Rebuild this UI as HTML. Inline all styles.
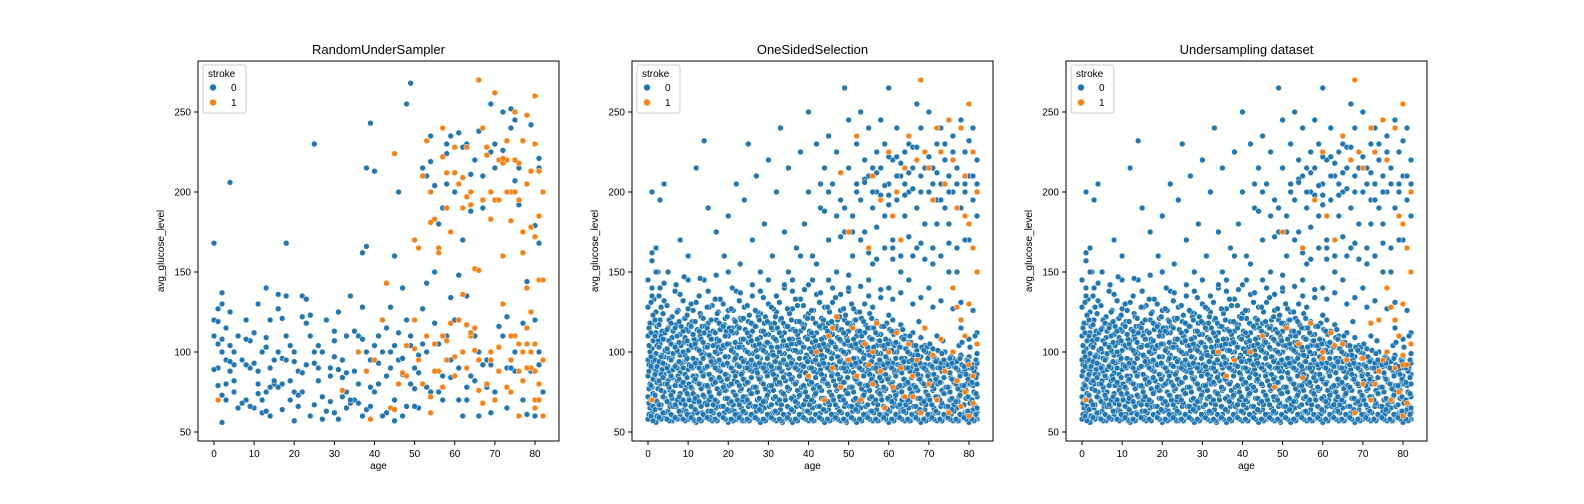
<!DOCTYPE html>
<html><head><meta charset="utf-8"><style>
body{margin:0;background:#fff;}
svg{display:block;font-family:"Liberation Sans","DejaVu Sans",sans-serif;}
</style></head><body>
<svg id="fig" width="1584" height="504" viewBox="0 0 1584 504" xmlns="http://www.w3.org/2000/svg"></svg>
<script>
// ---- data ----
const xTicks=[0,10,20,30,40,50,60,70,80];
const yTicks=[50,100,150,200,250];
const titles=["RandomUnderSampler","OneSidedSelection","Undersampling dataset"];
const p1Blue="0,168 0,120 0,110 1,127 1,105 1,90 2,137 2,130 2,100 2,56 3,115 3,95 3,80 4,206 4,125 4,88 5,100 5,75 6,110 7,95 8,120 8,70 9,90 10,112 10,65 11,130 11,88 12,100 13,140 13,75 14,120 14,60 15,95 16,127 17,80 18,168 18,110 19,70 20,57 20,100 21,88 22,135 22,75 23,118 24,60 25,230 25,100 26,90 27,72 28,120 29,85 30,107 30,62 31,125 32,95 33,75 34,135 35,88 36,110 37,60 37,162 38,166 38,215 39,243 39,95 40,75 40,213 41,110 42,100 43,85 44,128 45,70 45,160 46,200 47,140 47,60 48,255 49,268 49,110 50,90 51,65 52,127 52,215 53,100 54,235 54,75 55,150 56,105 57,85 57,190 58,230 59,95 60,200 60,120 61,70 62,170 63,135 63,230 64,85 65,110 66,60 67,210 68,95 69,255 70,75 70,230 71,195 72,110 73,65 74,240 75,100 76,215 77,70 78,205 79,88 80,120 80,60 81,215 82,75 81,100 66,100 56,75 44,100 34,68 24,110 14,90 6,65 46,95 36,80 26,82 16,78 48,120 58,110 62,60 72,250 9,107 3,70 5,92 7,68 11,74 12,62 15,80 17,96 19,104 21,66 23,92 27,100 28,63 29,90 31,58 32,84 33,110 35,70 38,64 41,93 43,62 45,104 47,86 49,80 51,98 53,78 55,118 57,70 59,84 61,90 63,78 65,82 67,92 69,62 71,116 73,90 75,88 77,118 79,100 81,92 0,89 1,119 1,79 2,73 2,108 4,94 4,104 5,82 8,92 8,108 9,66 10,93 11,80 12,70 13,103 13,109 13,63 14,78 15,82 16,100 16,136 17,64 17,121 18,135 18,95 19,82 20,75 20,94 21,73 22,122 22,87 23,133 24,123 25,93 25,67 26,104 27,58 29,69 30,97 30,113 31,89 32,72 33,65 33,87 34,70 35,113 36,68 37,108 37,128 38,100 39,78 39,66 40,104 41,80 42,60 43,115 44,90 45,57 46,112 47,96 48,66 49,104 50,77 50,66 51,87 52,105 53,143 53,210 54,219 55,204 56,180 58,205 58,224 59,235 59,134 60,228 61,148 61,237 62,228 63,70 64,211 64,188 65,220 66,238 67,190 68,78 69,225 70,215 71,116 72,226 73,122 74,252 75,245 75,207 76,192 78,144 79,242 80,179 81,168 81,221 78,61 74,90 69,92";
const p1Orange="1,70 39,58 43,143 45,224 50,170 51,165 52,210 53,232 54,200 55,183 56,165 57,240 58,212 59,175 60,228 61,205 62,190 63,228 64,200 65,152 66,270 67,240 68,228 69,200 70,262 71,220 72,218 73,232 74,200 75,250 76,218 77,175 78,248 79,178 80,260 80,230 81,185 82,200 81,145 79,125 78,105 77,82 76,60 75,110 74,95 73,78 72,130 71,88 70,70 69,100 68,80 67,68 66,95 65,115 64,110 63,90 62,100 61,120 60,85 58,95 57,78 56,88 55,105 54,62 53,110 52,80 51,95 50,120 48,85 46,80 44,65 42,120 40,95 38,88 36,100 82,60 82,95 81,80 80,70 79,90 78,115 77,100 76,88 80,172 78,140 73,200 67,195 74,182 72,160 75,220 70,195 79,100 80,88 32,76 47,87 54,181 57,222 58,190 60,212 62,209 63,197 64,192 66,151 69,183 71,195 73,220 74,75 76,195 77,232 78,205 79,213 80,65 80,105 81,213 81,70 82,145 78,90 77,162 76,105 75,200 74,110 72,221 71,103 69,95 68,223 66,76 65,101 64,112 63,117 62,136 60,97 59,118 58,107 57,110 56,162 55,88 54,72 50,102 48,104 45,64";
const denseBlue="0:58,72,85,95,110,128|1:62,78,90,102,118,140|2:56,70,88,99,112,125|3:65,80,93,105,120|4:59,75,86,97,108,132|5:63,82,91,100,115|6:57,71,84,96,109,122|7:66,79,92,104,117|8:60,74,87,98,111,136|9:64,81,94,106,121|10:58,73,89,101,113,127|11:61,77,90,103,119|12:56,69,85,95,107,131|13:67,80,93,110,124|14:59,72,86,99,112,145|15:63,78,91,104,118|16:57,70,84,96,108,129|17:65,82,94,105,120|18:60,75,88,100,114,133|19:62,79,92,103,117|20:56,71,85,97,110,126|21:64,80,90,102,115|22:58,73,87,98,112,138|23:61,76,91,105,121|24:57,69,83,95,108,128|25:66,81,93,106,119|26:59,74,88,99,113,135|27:63,78,90,101,116|28:56,70,84,96,109,124|29:65,79,92,104,118|30:60,75,87,98,111,130|31:62,77,89,100,114|32:57,71,85,97,107,125|33:64,80,93,103,120|34:58,73,86,99,112,140|35:61,76,90,102,116|36:56,70,84,95,108,127|37:66,81,92,105,119|38:59,74,88,100,113,133|39:63,78,91,103,117|40:57,69,83,96,110,124|41:65,80,94,106,121|42:60,75,87,98,112,136|43:62,77,89,101,115|44:56,71,85,97,109,128|45:64,79,92,104,118|46:58,72,86,99,111,131|47:61,76,90,102,116|48:57,70,84,95,107,126|49:66,81,93,105,120|50:59,74,88,100,113,138|51:63,78,91,103,117|52:56,69,83,96,110,125|53:65,80,94,106,121|54:60,75,87,98,112,130|55:62,77,89,101,115|56:57,71,85,97,108,128|57:64,79,92,104,119|58:58,73,86,99,111,134|59:61,76,90,102,116|60:56,70,84,95,107,123|61:66,81,93,105,120|62:59,74,88,100,113|63:63,78,91,103,117|64:57,69,83,96,110|65:65,80,94,106|66:60,75,87,98,112|67:62,77,89,101|68:56,71,85,97,109|69:64,79,92,104|70:58,72,86,99|71:61,76,90,102|72:57,70,84,95,110|73:66,81,93|74:59,74,88,100|75:63,78,91|76:57,69,83,96|77:65,80,94|78:60,75,87,98,115|79:62,77,89|80:56,71,85,97,108|81:64,79,92|82:58,72,86,99,112";
const denseBlue2="0.5:65,80,100,118|1.5:59,84,96,133|2.5:68,77,107,150|3.5:61,89,98,113|5.5:66,76,87,106|7.5:58,85,100,126|9.5:63,78,95,114|11.5:57,69,82,108|13.5:62,87,100,116|15.5:59,73,97,112|17.5:66,90,103,125|19.5:58,76,86,113|21.5:63,82,95,120|23.5:57,70,87,103|25.5:60,74,91,110|27.5:66,84,97,122|29.5:58,71,89,106|31.5:62,80,94,118|33.5:56,74,88,104|35.5:65,83,96,114|37.5:59,72,90,108|39.5:63,86,98,121|41.5:57,73,89,103|43.5:64,82,95,117|45.5:58,69,88,107|47.5:62,79,97,114|49.5:56,74,90,109|51.5:65,84,96,120|53.5:59,72,89,104|55.5:63,81,94,115|57.5:57,76,90,107|59.5:61,84,96,118|61.5:58,70,87,104|63.5:64,79,93,114|65.5:57,73,90,106|67.5:62,83,95,119|69.5:59,70,88,103|71.5:63,80,94|73.5:58,75,90,107|75.5:61,84,97|77.5:57,72,88,104|79.5:63,80,95|81.5:58,74,90,110";
const denseBlue3="0.25:61,68,77,88,92,104,115|1.25:57,66,74,83,94,107,123|2.25:60,69,81,91,104,116|3.25:58,67,76,86,97,110,128|4.25:62,71,80,92,101,112|5.25:57,68,78,88,96,107,120|6.25:60,66,75,89,99,113|7.25:58,70,82,90,101,110,125|8.25:63,68,79,93,104,116|9.25:57,67,76,86,98,109,121|10.25:61,70,80,92,105,117|11.25:58,65,74,85,96,111,126|12.25:62,72,81,91,102,114|13.25:57,66,77,88,99,108,122|14.25:60,68,79,90,103,116|15.25:58,70,75,86,98,110,128|16.25:62,67,80,92,104,113|17.25:57,69,77,89,99,108,124|18.25:60,66,82,93,102,117|19.25:58,71,76,86,97,110,121|20.25:63,68,79,91,105,115|21.25:57,67,75,88,100,112,126|22.25:61,70,81,92,103,116|23.25:58,65,77,86,96,108,120|24.25:62,72,80,90,101,114|25.25:57,68,76,89,99,110,123|26.25:60,66,78,93,104,117|27.25:58,70,75,87,97,108,125|28.25:63,67,81,91,102,113|29.25:57,69,77,88,100,111,122|30.25:61,66,79,92,105,118|31.25:58,71,76,86,98,109,127|32.25:62,68,80,90,103,115|33.25:57,67,75,88,99,110,121|34.25:60,70,82,93,104,116|35.25:58,65,77,86,97,108,124|36.25:63,72,81,91,101,114|37.25:57,68,76,89,100,111,129|38.25:61,66,78,92,105,118|39.25:58,70,75,87,96,109,122|40.25:62,67,80,90,102,113|41.25:57,69,77,88,99,110,126|42.25:60,66,79,93,104,117|43.25:58,71,76,86,98,108,121|44.25:63,68,81,91,103,115|45.25:57,67,75,89,100,112,125|46.25:61,70,82,92,105,116|47.25:58,65,77,86,97,109,120|48.25:62,72,80,90,101,114|49.25:57,68,76,88,99,111,123|50.25:60,66,78,93,104,118|51.25:58,70,75,87,96,108,127|52.25:63,67,81,91,102,113|53.25:57,69,77,89,100,110,121|54.25:61,66,79,92,105,117|55.25:58,71,76,86,98,109,124|56.25:62,68,80,90,103,115|57.25:57,67,75,88,99,111|58.25:60,70,82,93,104,116|59.25:58,65,77,86,97,108|60.25:63,72,81,91,101,114|61.25:57,68,76,89,100,111|62.25:61,66,78,92,105|63.25:58,70,75,87,96,109|64.25:62,67,80,90,102|65.25:57,69,77,88,99,110|66.25:60,66,79,93,104|67.25:58,71,76,86,98|68.25:63,68,81,91,103|69.25:57,67,75,89,100|70.25:61,70,82,92,105|71.25:58,65,77,86,97|72.25:62,72,80,90,101|73.25:57,68,76,88,99|74.25:60,66,78,93|75.25:58,70,75,87,96|76.25:63,67,81,91|77.25:57,69,77,89|78.25:61,66,79,92,106|79.25:58,71,76,86|80.25:62,68,80,90,103|81.25:57,67,75,88|82:62,65,80,93";
const denseBlue4="0.75:60,70,79,91,97,112,131|1.75:64,73,86,95,110,120|2.75:59,67,82,94,103,117,135|3.75:62,72,84,93,108,124|4.75:58,69,80,90,102,114,129|5.75:61,73,85,95,105,118|6.75:59,67,79,91,103,115,138|7.75:63,72,83,94,106,119|8.75:58,70,81,90,100,113,132|9.75:61,74,84,96,107,123|10.75:59,66,78,91,104,116,130|11.75:64,71,83,93,105,119|12.75:58,69,80,90,101,113,135|13.75:61,73,85,96,106,121|14.75:59,67,79,91,103,115,128|15.75:63,72,83,94,108,120|16.75:58,70,81,90,100,112,133|17.75:61,74,84,95,107,118|18.75:59,66,78,92,104,116,130|19.75:64,71,83,93,105,122|20.75:58,69,80,90,101,113,127|21.75:61,73,85,96,106,119|22.75:59,67,79,91,103,115,132|23.75:63,72,83,94,108,121|24.75:58,70,81,90,100,112,129|25.75:61,74,84,95,107,118|26.75:59,66,78,92,104,116,126|27.75:64,71,83,93,105,120|28.75:58,69,80,90,101,113,134|29.75:61,73,85,96,106,119|30.75:59,67,79,91,103,115,128|31.75:63,72,83,94,108,122|32.75:58,70,81,90,100,112,131|33.75:61,74,84,95,107,118|34.75:59,66,78,92,104,116,127|35.75:64,71,83,93,105,120|36.75:58,69,80,90,101,113,133|37.75:61,73,85,96,106,119|38.75:59,67,79,91,103,115,129|39.75:63,72,83,94,108,121|40.75:58,70,81,90,100,112,126|41.75:61,74,84,95,107,118|42.75:59,66,78,92,104,116,131|43.75:64,71,83,93,105,120|44.75:58,69,80,90,101,113,128|45.75:61,73,85,96,106,119|46.75:59,67,79,91,103,115,134|47.75:63,72,83,94,108,122|48.75:58,70,81,90,100,112,127|49.75:61,74,84,95,107,118|50.75:59,66,78,92,104,116,130|51.75:64,71,83,93,105,120|52.75:58,69,80,90,101,113,125|53.75:61,73,85,96,106,119|54.75:59,67,79,91,103,115|55.75:63,72,83,94,108,121|56.75:58,70,81,90,100,112|57.75:61,74,84,95,107|58.75:59,66,78,92,104,116|59.75:64,71,83,93,105|60.75:58,69,80,90,101,113|61.75:61,73,85,96,106|62.75:59,67,79,91,103|63.75:63,72,83,94,108|64.75:58,70,81,90,100|65.75:61,74,84,95|66.75:59,66,78,92,104|67.75:64,71,83,93|68.75:58,69,80,90,101|69.75:61,73,85,96|70.75:59,67,79,91|71.75:63,72,83,94|72.75:58,70,81,90|73.75:61,74,84,95|74.75:59,66,78,92|75.75:64,71,83,93|76.75:58,69,80,90|77.75:61,73,85,96|78.75:59,67,79,91|79.75:63,72,83,94|80.75:58,70,81,90|81.75:61,74,84,95";
const highBlue="1,200 2,165 3,195 4,205 5,150 8,170 10,145 12,215 14,232 15,190 17,175 19,160 20,185 22,205 23,155 24,195 25,230 26,170 27,210 28,150 29,180 30,220 31,160 32,200 33,240 34,175 35,215 36,145 37,165 38,225 39,180 40,250 40,200 41,160 42,230 43,190 44,215 45,170 45,235 46,205 47,150 47,225 48,195 49,265 49,175 50,215 50,245 51,185 51,160 52,230 52,205 53,195 53,250 54,220 54,175 55,210 55,240 56,190 56,155 57,225 57,200 58,215 58,245 59,185 59,230 60,205 60,265 61,220 61,170 62,195 62,240 63,210 63,150 64,225 64,185 65,230 65,200 66,215 66,160 67,255 67,190 68,210 68,240 69,180 69,225 70,200 70,250 71,215 71,165 72,230 72,195 73,205 73,240 74,190 74,220 75,210 75,180 76,235 76,200 77,215 77,165 78,190 78,245 79,205 79,225 80,170 80,210 81,240 81,195 82,220 82,185 20,150 35,150 45,145 55,145 65,145 75,150 10,160 50,140 60,140 70,140 30,145 40,142 52,200 54,208 56,215 58,198 60,192 62,222 64,205 66,228 48,172 44,188 38,160 42,155 57,178 61,158 68,168 72,180 1,157 1,162 2,150 0,145 1,135 3,140 4,143 7,142 9,147 13,146 15,138 17,148 21,140 23,137 26,142 28,138 32,135 34,142 36,138 39,139 41,145 43,137 46,140 48,136 50,148 53,141 55,135 58,139 61,133 63,137 66,130 68,134 71,128 73,132 76,127 78,131 81,126 54,206 56,200 57,212 59,204 60,198 60,222 62,210 63,218 64,198 65,212 66,202 67,228 68,200 69,215 70,222 71,205 72,212 73,195 74,230 75,200 76,225 77,205 79,200 80,232 81,210 82,205 59,165 61,165 63,160 65,172 67,165 69,158 71,155 73,160 75,168 77,150 79,170 53,170 55,162 57,158 51,175 49,190 47,185 45,200 43,205";
const p2Orange="40,85 42,100 44,70 45,110 46,90 48,78 50,95 51,115 52,85 53,70 54,105 55,92 56,80 57,118 58,88 59,65 60,100 61,78 62,112 63,90 64,72 65,105 66,85 67,95 68,62 69,115 70,80 71,98 72,70 73,108 74,88 75,62 76,100 77,82 78,120 79,75 80,92 81,68 82,105 80,60 79,110 81,85 78,66 77,128 76,140 80,130 82,150 81,165 80,180 79,185 46,115 56,100 66,72 47,122 48,212 50,175 52,235 55,165 56,210 58,195 60,225 62,200 63,170 65,235 67,220 68,270 70,215 71,195 72,240 73,225 74,205 75,245 76,220 77,190 78,240 79,210 80,255 81,225 82,200 69,225 61,185 64,215 1,70";
const p3Orange="1,70 42,100 45,110 48,78 51,115 54,105 57,118 60,100 62,112 65,105 68,62 70,80 72,70 74,88 76,100 78,120 79,75 80,92 81,68 82,105 80,60 79,110 77,128 76,140 80,130 82,150 81,165 80,180 79,185 50,175 55,165 58,195 60,225 63,170 65,235 67,220 68,270 70,215 72,240 73,225 75,245 76,220 78,240 80,255 82,200 69,225 61,185 36,85 34,100 38,95 55,84 60,96 63,104 66,95 70,96 72,118 74,120 75,95 78,90 80,98 81,92 77,70 73,80";
// ---- helpers ----
const NS="http://www.w3.org/2000/svg";
const svg=document.getElementById('fig');
function mk(tag,attrs,parent){const e=document.createElementNS(NS,tag);for(const k in attrs)e.setAttribute(k,attrs[k]);(parent||svg).appendChild(e);return e;}
function pairs(s){return s.trim().split(/\s+/).map(p=>p.split(',').map(Number));}
function grouped(s){const out=[];s.split('|').forEach(g=>{const [a,v]=g.split(':');v.split(',').forEach(y=>out.push([+a,+y]));});return out;}
const BLUE="#1f77b4",ORANGE="#ff7f0e";
function denseAll(){return grouped(denseBlue).concat(grouped(denseBlue2),grouped(denseBlue3),grouped(denseBlue4),pairs(highBlue));}
const panels=[
 {left:198,blue:pairs(p1Blue),orange:pairs(p1Orange)},
 {left:632,blue:denseAll(),orange:pairs(p2Orange)},
 {left:1066,blue:denseAll(),orange:pairs(p3Orange)}
];
const TOP=61,BOT=441,W=361;
panels.forEach((p,i)=>{
 const x0=p.left;
 const sx=v=>x0+16+(v-0)*4.0125;
 const sy=v=>432-(v-50)*1.6;
 const g=mk('g',{});
 
 
 const t=mk('text',{x:x0+W/2,y:54,'text-anchor':'middle','font-size':13,fill:'#000'},g);
 t.textContent=titles[i];
 
 
 const pts=mk('g',{},g);
 
 
 p.blue.forEach(d=>{const c=mk('circle',{cx:sx(d[0]),cy:sy(d[1]),r:2.9,fill:BLUE,stroke:'#fff','stroke-width':0.5},pts);
  
  });
 p.orange.forEach(d=>{const c=mk('circle',{cx:sx(d[0]),cy:sy(d[1]),r:2.9,fill:ORANGE,stroke:'#fff','stroke-width':0.5},pts);
  
  });
 const frame=mk('rect',{x:x0,y:TOP,width:W,height:BOT-TOP,fill:'none',stroke:'#000','stroke-width':1},g);
 
 
 xTicks.forEach(v=>{const x=sx(v);mk('line',{x1:x,x2:x,y1:BOT,y2:BOT+4,stroke:'#000'},g);
  const tl=mk('text',{x:x,y:BOT+16,'text-anchor':'middle','font-size':10},g);tl.textContent=v;
  
  });
 yTicks.forEach(v=>{const y=sy(v);mk('line',{x1:x0-4,x2:x0,y1:y,y2:y,stroke:'#000'},g);
  const tl=mk('text',{x:x0-7,y:y+3.5,'text-anchor':'end','font-size':10},g);tl.textContent=v;
  
  });
 const xl=mk('text',{x:x0+W/2,y:469,'text-anchor':'middle','font-size':10},g);xl.textContent='age';
 
 
 const yl=mk('text',{x:0,y:0,'text-anchor':'middle','font-size':10,transform:`translate(${x0-34},${(TOP+BOT)/2}) rotate(-90)`},g);yl.textContent='avg_glucose_level';
 
 
 const lg=mk('g',{},g);
 
 
 mk('rect',{x:x0+5,y:65,width:43,height:48,rx:2,fill:'#fff','fill-opacity':0.8,stroke:'#ccc'},lg);
 const lt=mk('text',{x:x0+10,y:77,'font-size':10},lg);lt.textContent='stroke';
 [[0,BLUE,91],[1,ORANGE,106]].forEach(([lab,col,y])=>{
  const e=mk('circle',{cx:x0+15,cy:y-3.5,r:3.5,fill:col,stroke:'#fff','stroke-width':0.6},lg);
  
  
  const tx=mk('text',{x:x0+33,y:y,'font-size':10},lg);tx.textContent=lab;
  
  });
});
</script>
</body></html>
